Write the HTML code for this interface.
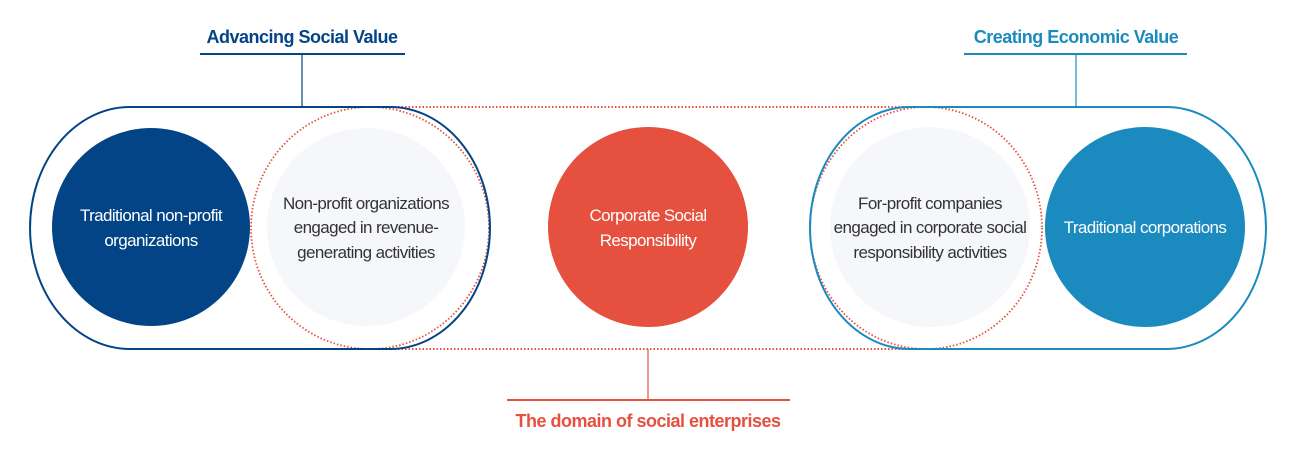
<!DOCTYPE html>
<html><head><meta charset="utf-8"><style>
html,body{margin:0;padding:0;background:#fff;}
svg text{font-family:"Liberation Sans","Noto Sans CJK KR",sans-serif;}
</style></head><body>
<svg width="1295" height="457" viewBox="0 0 1295 457" xmlns="http://www.w3.org/2000/svg">
<!-- top labels -->
<text x="302" y="43" text-anchor="middle" font-size="18" font-weight="bold" fill="#034486" letter-spacing="-0.5">Advancing Social Value</text>
<line x1="200" y1="54" x2="405" y2="54" stroke="#034486" stroke-width="2"/>
<line x1="302" y1="54" x2="302" y2="107" stroke="#034486" stroke-width="1.2"/>
<text x="1076" y="43" text-anchor="middle" font-size="18" font-weight="bold" fill="#1a8abf" letter-spacing="-0.5">Creating Economic Value</text>
<line x1="964" y1="54" x2="1187" y2="54" stroke="#1a8abf" stroke-width="2"/>
<line x1="1076" y1="54" x2="1076" y2="107" stroke="#1a8abf" stroke-width="1.2"/>
<!-- red dotted domain -->
<path d="M370 107 L930 107 M370 349 L930 349" stroke="#e5503f" stroke-width="2" stroke-dasharray="1.5 2" fill="none"/>
<ellipse cx="370" cy="228" rx="119" ry="121" fill="none" stroke="#e5503f" stroke-width="1.8" stroke-dasharray="1.5 2"/>
<ellipse cx="926" cy="228" rx="116" ry="121" fill="none" stroke="#e5503f" stroke-width="1.8" stroke-dasharray="1.5 2"/>
<!-- pills -->
<path d="M130 107 L390 107 A100 121 0 0 1 390 349 L130 349 A100 121 0 0 1 130 107 Z" fill="none" stroke="#034486" stroke-width="2"/>
<path d="M910 107 L1166 107 A100 121 0 0 1 1166 349 L910 349 A100 121 0 0 1 910 107 Z" fill="none" stroke="#1a8abf" stroke-width="2"/>
<!-- circles -->
<circle cx="151" cy="227" r="99" fill="#034486"/>
<circle cx="366" cy="227" r="99" fill="#f5f7fb"/>
<circle cx="648" cy="227" r="100" fill="#e5503f"/>
<circle cx="930" cy="227" r="100" fill="#f5f7fb"/>
<circle cx="1145" cy="227" r="100" fill="#1a8abf"/>
<!-- circle text -->
<g font-size="17" letter-spacing="-0.6" text-anchor="middle">
<text x="151" fill="#fff"><tspan x="151" y="221">Traditional non-profit</tspan><tspan x="151" y="246">organizations</tspan></text>
<text fill="#333"><tspan x="366" y="209">Non-profit organizations</tspan><tspan x="366" y="233">engaged in revenue-</tspan><tspan x="366" y="258">generating activities</tspan></text>
<text fill="#fff"><tspan x="648" y="221">Corporate Social</tspan><tspan x="648" y="246">Responsibility</tspan></text>
<text fill="#333"><tspan x="930" y="209">For-profit companies</tspan><tspan x="930" y="233">engaged in corporate social</tspan><tspan x="930" y="258">responsibility activities</tspan></text>
<text fill="#fff"><tspan x="1145" y="233">Traditional corporations</tspan></text>
</g>
<!-- bottom label -->
<line x1="648" y1="349" x2="648" y2="400" stroke="#e5503f" stroke-width="1.2"/>
<line x1="507" y1="400" x2="790" y2="400" stroke="#e5503f" stroke-width="2"/>
<text x="648" y="427" text-anchor="middle" font-size="18" font-weight="bold" fill="#e5503f" letter-spacing="-0.5">The domain of social enterprises</text>
</svg>
</body></html>
